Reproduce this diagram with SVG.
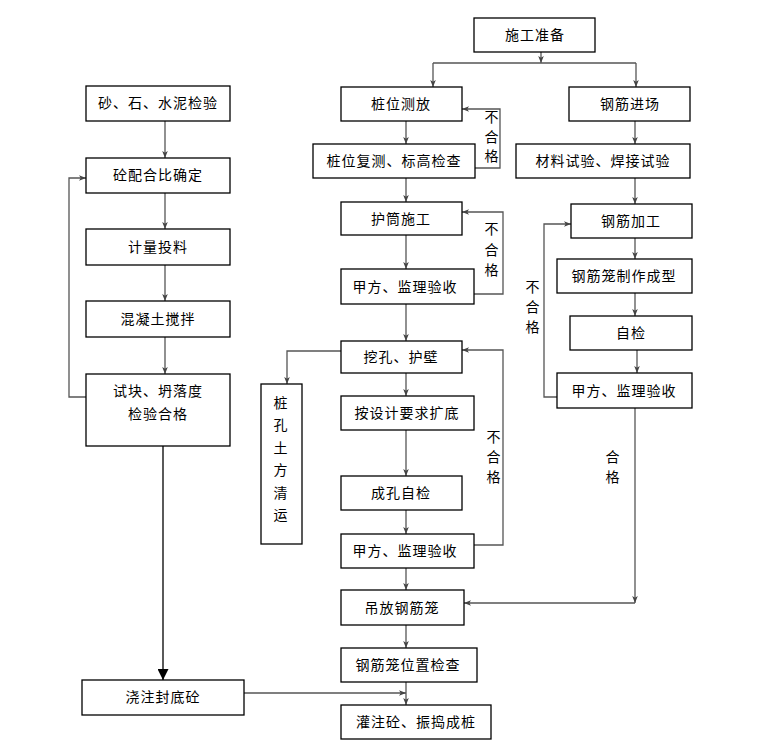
<svg xmlns="http://www.w3.org/2000/svg" width="758" height="754" viewBox="0 0 758 754">
<defs>
<marker id="a" viewBox="0 0 8 8" refX="8" refY="4" markerWidth="7" markerHeight="7" markerUnits="userSpaceOnUse" orient="auto">
<path d="M0,0.8 L8,4 L0,7.2 L2,4 Z" fill="#444"/>
</marker>
<marker id="b" viewBox="0 0 10 10" refX="10" refY="5" markerWidth="11" markerHeight="11" markerUnits="userSpaceOnUse" orient="auto">
<path d="M0,0 L10,5 L0,10 Z" fill="#000"/>
</marker>
</defs>
<style>
rect{fill:#fff;stroke:#000;stroke-width:1.3}
text{font-family:"Noto Sans CJK SC","Noto Sans",sans-serif;font-size:14px;fill:#000;text-anchor:middle;letter-spacing:1px}
.c path{fill:none;stroke:#555;stroke-width:1.3}
.c .k{stroke:#000}
.ar{marker-end:url(#a)}
</style>
<rect x="0" y="0" width="758" height="754" style="fill:#fff;stroke:none"/>

<g class="c" id="connectors">
<path class="ar" d="M541,52 V63"/>
<path d="M433,63 H636"/>
<path class="ar" d="M433,63 V87"/>
<path class="ar" d="M636,63 V87"/>
<path class="ar" d="M406,121 V144"/>
<path class="ar" d="M635,121 V144"/>
<path class="ar" d="M475,168 H500 V109 H462"/>
<path class="ar" d="M406,178 V202"/>
<path class="ar" d="M406,235 V269"/>
<path class="ar" d="M474,294 H503 V212 H462"/>
<path class="ar" d="M406,304 V341"/>
<path class="ar" d="M341,351 H287 V384"/>
<path class="ar" d="M406,373 V396"/>
<path class="ar" d="M406,430 V476"/>
<path class="ar" d="M406,510 V534"/>
<path class="ar" d="M474,545 H503 V350 H462"/>
<path class="ar" d="M406,568 V590"/>
<path class="ar" d="M406,625 V648"/>
<path class="ar" d="M406,682 V705"/>
<path class="ar" d="M635,178 V204"/>
<path class="ar" d="M635,238 V259"/>
<path class="ar" d="M635,293 V316"/>
<path class="ar" d="M637,350 V373"/>
<path class="ar" d="M557,397 H544 V224 H571"/>
<path class="ar" d="M635,408 V603"/>
<path class="ar" d="M635,603 H464"/>
<path class="ar" d="M165,121 V158"/>
<path class="ar" d="M165,193 V229"/>
<path class="ar" d="M165,265 V301"/>
<path class="ar" d="M165,337 V374"/>
<path class="ar" d="M86,397 H69 V178 H86"/>
<path class="k" d="M163,446 V680" style="marker-end:url(#b)"/>
<path class="ar" d="M244,693 H406"/>
</g>

<g id="labels">
<text x="492" y="122">不</text><text x="492" y="142">合</text><text x="492" y="161">格</text>
<text x="492" y="234">不</text><text x="492" y="255">合</text><text x="492" y="275">格</text>
<text x="494" y="442">不</text><text x="494" y="462">合</text><text x="494" y="482">格</text>
<text x="533" y="292">不</text><text x="533" y="312">合</text><text x="533" y="332">格</text>
<text x="613" y="462">合</text><text x="613" y="482">格</text>
</g>

<g id="n-prep"><rect x="474" y="18" width="121" height="34"/><text x="535" y="40">施工准备</text></g>
<g id="n-survey"><rect x="341" y="87" width="121" height="34"/><text x="401" y="109">桩位测放</text></g>
<g id="n-rebar-in"><rect x="569" y="87" width="121" height="34"/><text x="630" y="109">钢筋进场</text></g>
<g id="n-recheck"><rect x="313" y="144" width="162" height="34"/><text x="394" y="166">桩位复测、标高检查</text></g>
<g id="n-test"><rect x="516" y="144" width="174" height="34"/><text x="603" y="166">材料试验、焊接试验</text></g>
<g id="n-casing"><rect x="341" y="202" width="121" height="33"/><text x="401" y="224">护筒施工</text></g>
<g id="n-accept1"><rect x="341" y="269" width="133" height="35"/><text x="405" y="292">甲方、监理验收</text></g>
<g id="n-dig"><rect x="341" y="341" width="121" height="32"/><text x="401" y="362">挖孔、护壁</text></g>
<g id="n-spoil"><rect x="261" y="384" width="41" height="160"/>
<text x="281" y="408">桩</text><text x="281" y="430">孔</text><text x="281" y="453">土</text><text x="281" y="475">方</text><text x="281" y="498">清</text><text x="281" y="520">运</text></g>
<g id="n-bell"><rect x="341" y="396" width="133" height="34"/><text x="407" y="418">按设计要求扩底</text></g>
<g id="n-selfcheck"><rect x="341" y="476" width="121" height="34"/><text x="401" y="498">成孔自检</text></g>
<g id="n-accept2"><rect x="341" y="534" width="133" height="34"/><text x="405" y="556">甲方、监理验收</text></g>
<g id="n-hoist"><rect x="341" y="590" width="123" height="35"/><text x="402" y="613">吊放钢筋笼</text></g>
<g id="n-poscheck"><rect x="341" y="648" width="136" height="34"/><text x="408" y="670">钢筋笼位置检查</text></g>
<g id="n-pour"><rect x="341" y="705" width="150" height="34"/><text x="416" y="727">灌注砼、振捣成桩</text></g>
<g id="n-process"><rect x="571" y="204" width="121" height="34"/><text x="631" y="226">钢筋加工</text></g>
<g id="n-cage"><rect x="557" y="259" width="135" height="34"/><text x="624" y="281">钢筋笼制作成型</text></g>
<g id="n-self"><rect x="570" y="316" width="122" height="34"/><text x="631" y="338">自检</text></g>
<g id="n-accept3"><rect x="557" y="373" width="135" height="35"/><text x="624" y="396">甲方、监理验收</text></g>
<g id="n-aggr"><rect x="86" y="86" width="144" height="35"/><text x="158" y="108">砂、石、水泥检验</text></g>
<g id="n-mix"><rect x="86" y="158" width="144" height="35"/><text x="158" y="180">砼配合比确定</text></g>
<g id="n-meter"><rect x="86" y="229" width="144" height="36"/><text x="158" y="252">计量投料</text></g>
<g id="n-stir"><rect x="86" y="301" width="144" height="36"/><text x="158" y="324">混凝土搅拌</text></g>
<g id="n-slump"><rect x="86" y="374" width="144" height="72"/><text x="158" y="396">试块、坍落度</text><text x="158" y="419">检验合格</text></g>
<g id="n-seal"><rect x="82" y="680" width="162" height="35"/><text x="163" y="702">浇注封底砼</text></g>
</svg>
